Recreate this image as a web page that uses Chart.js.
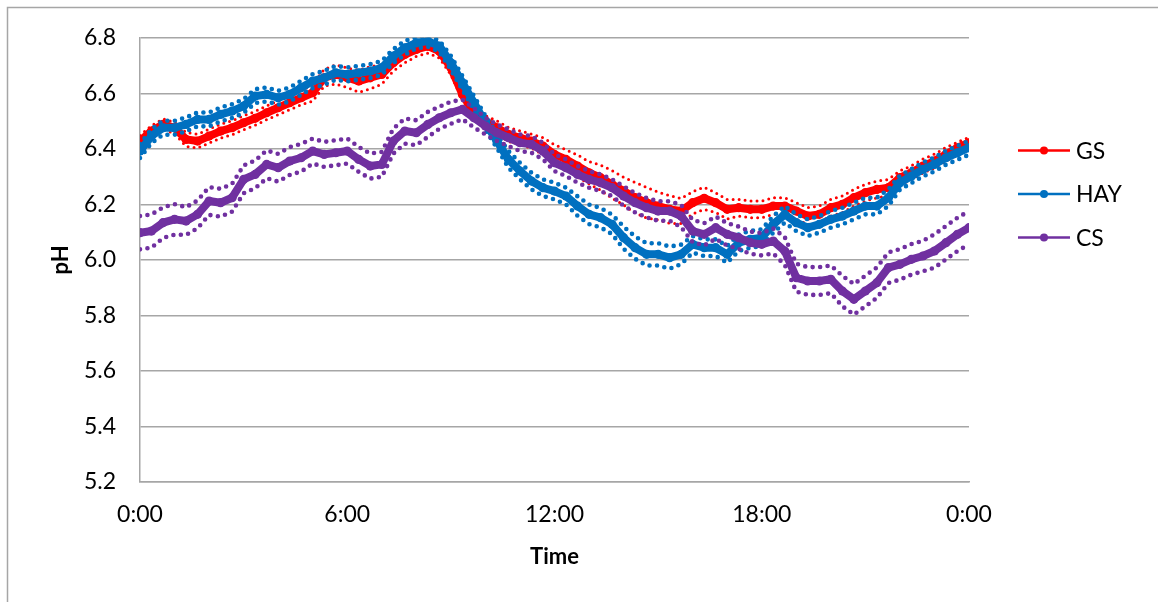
<!DOCTYPE html>
<html>
<head>
<meta charset="utf-8">
<script src="https://cdn.jsdelivr.net/npm/chart.js@4.4.1/dist/chart.umd.min.js"></script>
<style>
html,body{margin:0;padding:0;background:#fff;}
#wrap{width:1158px;height:602px;position:relative;}
canvas{display:block;}
</style>
</head>
<body>
<div id="wrap"><canvas id="c" width="1158" height="602"></canvas></div>
<script>
// ---- data (pH readings every 20 minutes, 0:00 -> 0:00) ----
const STEP_MIN = 20;
const xTickLabels = ['0:00', '6:00', '12:00', '18:00', '0:00'];
const seriesNames = ['GS', 'HAY', 'CS'];

const gsMean = [
  6.428, 6.464, 6.488, 6.476, 6.434, 6.428, 6.446, 6.464, 6.476, 6.494, 6.510, 6.530,
  6.548, 6.566, 6.584, 6.602, 6.656, 6.668, 6.656, 6.644, 6.656, 6.668, 6.710, 6.740,
  6.758, 6.770, 6.752, 6.692, 6.596, 6.530, 6.500, 6.476, 6.452, 6.440, 6.428, 6.410,
  6.380, 6.362, 6.338, 6.314, 6.296, 6.272, 6.248, 6.224, 6.206, 6.194, 6.182, 6.176,
  6.206, 6.222, 6.206, 6.182, 6.188, 6.182, 6.182, 6.194, 6.194, 6.176, 6.158, 6.164,
  6.188, 6.200, 6.224, 6.242, 6.254, 6.260, 6.296, 6.314, 6.338, 6.356, 6.380, 6.404,
  6.422
];
const gsSE = [
  0.020, 0.020, 0.020, 0.020, 0.025, 0.025, 0.025, 0.025, 0.025, 0.025, 0.025, 0.025,
  0.025, 0.025, 0.025, 0.030, 0.030, 0.035, 0.035, 0.040, 0.040, 0.035, 0.030, 0.030,
  0.025, 0.025, 0.025, 0.025, 0.020, 0.020, 0.020, 0.025, 0.025, 0.025, 0.025, 0.030,
  0.035, 0.035, 0.040, 0.040, 0.045, 0.050, 0.050, 0.055, 0.055, 0.050, 0.050, 0.045,
  0.040, 0.040, 0.035, 0.035, 0.030, 0.030, 0.030, 0.030, 0.030, 0.030, 0.030, 0.030,
  0.030, 0.030, 0.030, 0.030, 0.030, 0.030, 0.025, 0.025, 0.025, 0.025, 0.025, 0.020,
  0.020
];
const hayMean = [
  6.392, 6.446, 6.476, 6.476, 6.488, 6.506, 6.506, 6.524, 6.536, 6.554, 6.590, 6.596,
  6.584, 6.596, 6.620, 6.644, 6.656, 6.674, 6.668, 6.674, 6.680, 6.692, 6.734, 6.764,
  6.782, 6.788, 6.770, 6.710, 6.638, 6.566, 6.494, 6.428, 6.362, 6.320, 6.284, 6.260,
  6.248, 6.230, 6.194, 6.164, 6.152, 6.128, 6.080, 6.044, 6.020, 6.020, 6.008, 6.020,
  6.056, 6.044, 6.044, 6.020, 6.062, 6.074, 6.080, 6.128, 6.164, 6.134, 6.116, 6.128,
  6.146, 6.158, 6.176, 6.194, 6.194, 6.224, 6.278, 6.302, 6.326, 6.344, 6.368, 6.386,
  6.404
];
const haySE = [
  0.025, 0.025, 0.025, 0.025, 0.025, 0.025, 0.025, 0.025, 0.025, 0.025, 0.025, 0.025,
  0.025, 0.025, 0.025, 0.025, 0.025, 0.025, 0.025, 0.025, 0.025, 0.025, 0.025, 0.025,
  0.020, 0.020, 0.020, 0.025, 0.025, 0.025, 0.025, 0.025, 0.030, 0.030, 0.030, 0.030,
  0.030, 0.030, 0.035, 0.035, 0.035, 0.035, 0.040, 0.040, 0.040, 0.040, 0.040, 0.035,
  0.030, 0.030, 0.030, 0.030, 0.030, 0.030, 0.030, 0.030, 0.030, 0.030, 0.030, 0.030,
  0.030, 0.030, 0.030, 0.030, 0.030, 0.030, 0.025, 0.025, 0.025, 0.025, 0.025, 0.025,
  0.025
];
const csMean = [
  6.098, 6.104, 6.134, 6.146, 6.140, 6.164, 6.212, 6.206, 6.224, 6.290, 6.308, 6.344,
  6.332, 6.356, 6.368, 6.392, 6.380, 6.386, 6.392, 6.362, 6.338, 6.344, 6.428, 6.464,
  6.458, 6.488, 6.512, 6.530, 6.542, 6.512, 6.482, 6.458, 6.440, 6.422, 6.416, 6.392,
  6.350, 6.332, 6.308, 6.290, 6.278, 6.260, 6.230, 6.206, 6.188, 6.176, 6.176, 6.158,
  6.104, 6.092, 6.116, 6.092, 6.080, 6.062, 6.056, 6.068, 6.032, 5.936, 5.924, 5.924,
  5.930, 5.888, 5.858, 5.888, 5.918, 5.972, 5.984, 6.002, 6.014, 6.032, 6.062, 6.092,
  6.116
];
const csSE = [
  0.060, 0.060, 0.055, 0.055, 0.050, 0.050, 0.050, 0.050, 0.050, 0.050, 0.050, 0.050,
  0.050, 0.050, 0.050, 0.045, 0.045, 0.045, 0.045, 0.045, 0.045, 0.045, 0.045, 0.045,
  0.045, 0.045, 0.040, 0.040, 0.035, 0.035, 0.030, 0.030, 0.030, 0.030, 0.030, 0.030,
  0.030, 0.030, 0.030, 0.030, 0.030, 0.030, 0.035, 0.035, 0.035, 0.035, 0.035, 0.040,
  0.040, 0.040, 0.040, 0.040, 0.040, 0.040, 0.040, 0.045, 0.050, 0.050, 0.050, 0.050,
  0.050, 0.055, 0.055, 0.055, 0.055, 0.055, 0.055, 0.055, 0.055, 0.060, 0.060, 0.060,
  0.060
];

// ---- styling ----
const COLORS = {GS: '#FF0000', HAY: '#0070C0', CS: '#7030A0'};
const SE_DOT = {GS: 3.0, HAY: 4.6, CS: 4.6};
const SE_GAP = {GS: 6, HAY: 7.5, CS: 7.5};
const DRAW_ORDER = {GS: 3, HAY: 2, CS: 1};
const FONT = 'Lato, "Open Sans", "DejaVu Sans", sans-serif';

const hoursOf = i => i * STEP_MIN / 60;
const toPts = arr => arr.map((v, i) => ({x: hoursOf(i), y: v}));

const series = [
  {name: 'GS', mean: gsMean, se: gsSE},
  {name: 'HAY', mean: hayMean, se: haySE},
  {name: 'CS', mean: csMean, se: csSE}
];

const datasets = [];
series.forEach(s => {
  const c = COLORS[s.name];
  const upper = s.mean.map((v, i) => v + s.se[i]);
  const lower = s.mean.map((v, i) => v - s.se[i]);
  [upper, lower].forEach((arr, k) => {
    datasets.push({
      label: s.name + (k === 0 ? ' +SE' : ' -SE'),
      isSE: true,
      data: toPts(arr),
      borderColor: c,
      backgroundColor: c,
      borderWidth: SE_DOT[s.name],
      borderDash: [0, SE_GAP[s.name]],
      borderCapStyle: 'round',
      pointRadius: 0,
      tension: 0,
      fill: false,
      order: DRAW_ORDER[s.name] + 0.5
    });
  });
  datasets.push({
    label: s.name,
    isSE: false,
    data: toPts(s.mean),
    borderColor: c,
    backgroundColor: c,
    borderWidth: 8,
    borderJoinStyle: 'round',
    borderCapStyle: 'round',
    pointRadius: 4.6,
    pointBorderWidth: 0,
    pointBackgroundColor: c,
    tension: 0,
    fill: false,
    order: DRAW_ORDER[s.name]
  });
});

const frameAndLegend = {
  id: 'frameAndLegend',
  beforeDraw(chart) {
    const ctx = chart.ctx;
    ctx.save();
    ctx.fillStyle = '#fff';
    ctx.fillRect(0, 0, chart.width, chart.height);
    ctx.strokeStyle = '#a6a6a6';
    ctx.lineWidth = 1.5;
    ctx.beginPath();
    ctx.moveTo(7.5, chart.height + 2);
    ctx.lineTo(7.5, 7.5);
    ctx.lineTo(chart.width + 2, 7.5);
    ctx.stroke();
    ctx.restore();
  },
  afterDraw(chart) {
    const ctx = chart.ctx;
    ctx.save();
    const items = chart.data.datasets.filter(d => !d.isSE);
    items.forEach((d, i) => {
      const y = 150.5 + i * 43.5;
      ctx.strokeStyle = d.borderColor;
      ctx.lineWidth = 2.5;
      ctx.beginPath();
      ctx.moveTo(1018, y);
      ctx.lineTo(1070, y);
      ctx.stroke();
      ctx.fillStyle = d.borderColor;
      ctx.beginPath();
      ctx.arc(1044, y, 4, 0, Math.PI * 2);
      ctx.fill();
      ctx.fillStyle = '#000';
      ctx.font = '23px ' + FONT;
      ctx.textAlign = 'left';
      ctx.textBaseline = 'middle';
      ctx.fillText(d.label, 1076, y + 1);
    });
    ctx.restore();
  }
};

new Chart(document.getElementById('c'), {
  type: 'line',
  data: {datasets},
  plugins: [frameAndLegend],
  options: {
    responsive: false,
    animation: false,
    devicePixelRatio: 1,
    layout: {padding: {left: 0, top: 37, right: 189, bottom: 0}},
    plugins: {legend: {display: false}, tooltip: {enabled: false}},
    scales: {
      x: {
        type: 'linear',
        min: 0,
        max: 24,
        afterFit(s) { s.height = 120; },
        grid: {display: false, drawTicks: false},
        border: {display: true, color: '#a6a6a6', width: 1.5},
        ticks: {
          stepSize: 6, padding: 19, maxRotation: 0, autoSkip: false,
          color: '#000', font: {family: FONT, size: 23},
          callback: v => xTickLabels[Math.round(v / 6)]
        },
        title: {
          display: true, text: 'Time', color: '#000',
          font: {family: FONT, size: 22, weight: 'bold'},
          padding: {top: 0, bottom: 32}
        }
      },
      y: {
        min: 5.2,
        max: 6.8,
        afterFit(s) { s.width = 140; },
        grid: {color: '#a6a6a6', lineWidth: 1.5, drawTicks: false},
        border: {display: true, color: '#a6a6a6', width: 1.5},
        ticks: {
          stepSize: 0.2, padding: 24, color: '#000',
          font: {family: FONT, size: 23},
          callback: v => Number(v).toFixed(1)
        },
        title: {
          display: true, text: 'pH', color: '#000',
          font: {family: FONT, size: 22, weight: 'bold'},
          padding: {top: 48, bottom: 0}
        }
      }
    }
  }
});
</script>
</body>
</html>
